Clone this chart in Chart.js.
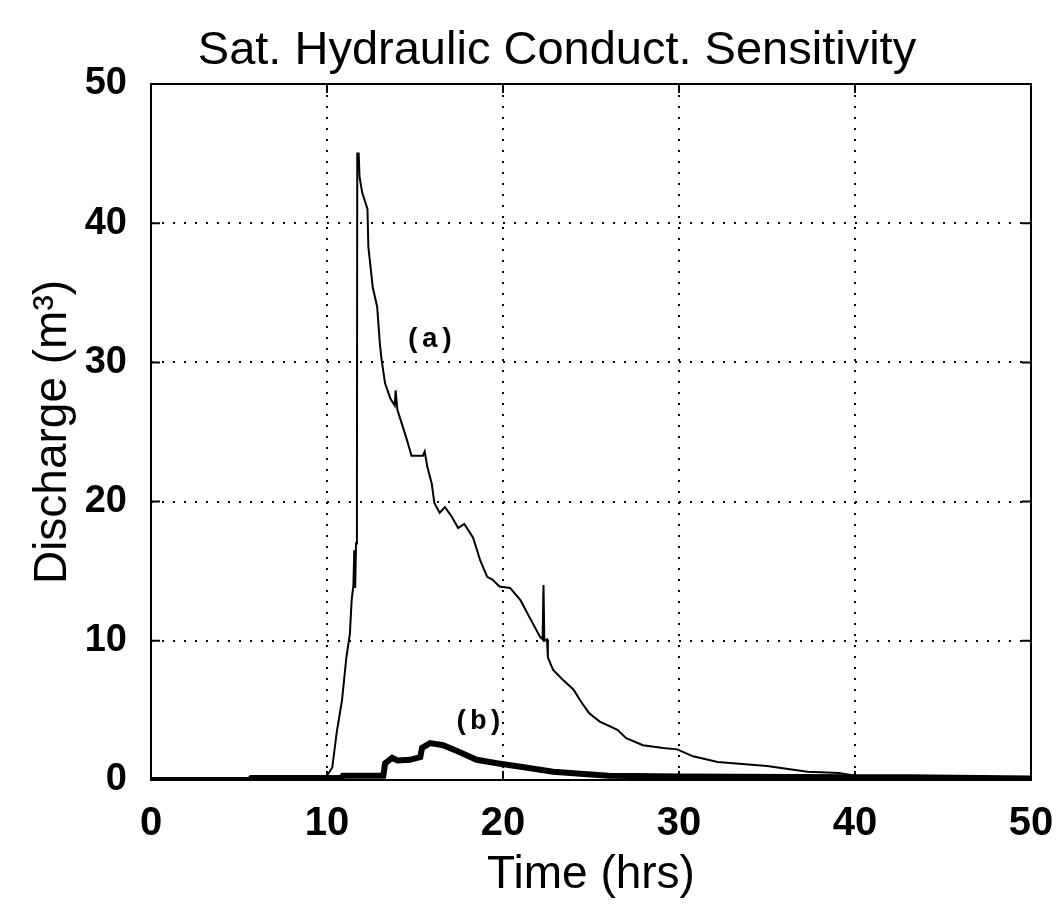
<!DOCTYPE html>
<html>
<head>
<meta charset="utf-8">
<script src="https://cdn.jsdelivr.net/npm/chart.js@4/dist/chart.umd.min.js"></script>
<style>
  html, body { margin: 0; padding: 0; background: #fff; }
  #wrap { width: 1058px; height: 909px; }
</style>
</head>
<body>
<div id="wrap"><canvas id="sens-chart" width="1058" height="909"></canvas></div>
<script>
// values
var timeA = [0, 9.9, 10.3, 10.55, 10.85, 11.1, 11.3, 11.4, 11.5, 11.55, 11.6, 11.65, 11.7, 11.72, 11.8, 11.85,
    12.0, 12.3, 12.35, 12.6, 12.85, 13.0, 13.1, 13.3, 13.6, 13.85, 13.9, 14.0, 14.25, 14.55, 14.8, 15.45,
    15.55, 15.7, 15.95, 16.1, 16.4, 16.7, 17.1, 17.45, 17.8, 18.3, 18.7, 19.1, 19.4, 19.8, 20.4, 21.0,
    21.5, 22.1, 22.25, 22.3, 22.35, 22.5, 22.55, 22.85, 23.4, 24.0, 24.5, 24.9, 25.5, 26.5, 27.0, 27.95,
    29.1, 29.9, 30.8, 32.2, 35.0, 36.1, 37.3, 39.1, 40.0, 50];
var dischargeA = [0, 0.1, 0.9, 3.4, 5.7, 8.8, 10.5, 12.9, 14.0, 16.5, 13.8, 17.0, 20.1, 45.0, 45.0, 43.3,
    42.2, 41.0, 38.3, 35.4, 34.0, 31.4, 30.2, 28.5, 27.4, 26.9, 28.0, 26.6, 25.6, 24.4, 23.3, 23.3,
    23.6, 22.5, 21.3, 19.9, 19.2, 19.6, 18.9, 18.1, 18.4, 17.4, 15.8, 14.6, 14.4, 13.9, 13.8, 12.9,
    11.7, 10.3, 10.1, 14.0, 10.0, 10.1, 8.8, 7.9, 7.2, 6.5, 5.5, 4.8, 4.2, 3.6, 3.0, 2.5,
    2.3, 2.2, 1.7, 1.3, 1.0, 0.8, 0.6, 0.5, 0.3, 0.2];

var timeB = [0, 5.6, 5.7, 10.8, 10.9, 13.2, 13.3, 13.7, 14.0, 14.7, 15.3, 15.4, 15.85, 16.6, 17.55,
    18.5, 19.65, 21.0, 22.85, 24.4, 26.0, 30, 40, 43, 50];
var dischargeB = [0, 0, 0.15, 0.15, 0.3, 0.3, 1.2, 1.6, 1.4, 1.45, 1.65, 2.3, 2.65, 2.5, 2.0,
    1.45, 1.2, 0.95, 0.6, 0.45, 0.3, 0.25, 0.2, 0.2, 0.1];

var xTicks = [0, 10, 20, 30, 40, 50];
var yTicks = [0, 10, 20, 30, 40, 50];

var curveLabels = [
    {text: '(a)', x: 15.85, y: 31.6},
    {text: '(b)', x: 18.6, y: 4.2}
];

function toPoints(xs, ys) {
    return xs.map(function(x, i) { return {x: x, y: ys[i]}; });
}

var fontSans = '"Liberation Sans", Arial, sans-serif';

// frame round the plot area, inner tick marks, curve labels, title
var framePlugin = {
    id: 'frame',
    afterDraw: function(chart) {
        var ctx = chart.ctx, a = chart.chartArea;
        var sx = chart.scales.x, sy = chart.scales.y;
        ctx.save();
        ctx.strokeStyle = '#000';
        ctx.lineWidth = 2;
        ctx.strokeRect(a.left, a.top, a.right - a.left, a.bottom - a.top);

        ctx.beginPath();
        xTicks.forEach(function(v) {
            var px = sx.getPixelForValue(v);
            ctx.moveTo(px, a.bottom); ctx.lineTo(px, a.bottom - 9);
            ctx.moveTo(px, a.top); ctx.lineTo(px, a.top + 9);
        });
        yTicks.forEach(function(v) {
            var py = sy.getPixelForValue(v);
            ctx.moveTo(a.left, py); ctx.lineTo(a.left + 9, py);
            ctx.moveTo(a.right, py); ctx.lineTo(a.right - 9, py);
        });
        ctx.stroke();

        ctx.fillStyle = '#000';
        ctx.font = 'bold 28px "Liberation Mono", "DejaVu Sans Mono", monospace';
        ctx.textAlign = 'center';
        ctx.textBaseline = 'middle';
        curveLabels.forEach(function(l) {
            ctx.fillText(l.text, sx.getPixelForValue(l.x), sy.getPixelForValue(l.y));
        });

        ctx.font = '47px ' + fontSans;
        ctx.textBaseline = 'alphabetic';
        ctx.fillText('Sat. Hydraulic Conduct. Sensitivity', 557, 64);
        ctx.restore();
    }
};

var ctx = document.getElementById('sens-chart').getContext('2d');
var chart = new Chart(ctx, {
    type: 'scatter',
    data: {
        datasets: [{
            label: '(a)',
            data: toPoints(timeA, dischargeA),
            showLine: true,
            borderColor: '#000',
            borderWidth: 2,
            pointRadius: 0,
            tension: 0
        }, {
            label: '(b)',
            data: toPoints(timeB, dischargeB),
            showLine: true,
            borderColor: '#000',
            borderWidth: 6,
            pointRadius: 0,
            tension: 0
        }]
    },
    options: {
        responsive: false,
        animation: false,
        layout: { padding: { left: 0, right: 27, top: 84, bottom: 0 } },
        plugins: {
            legend: { display: false },
            tooltip: { enabled: false },
            title: { display: false }
        },
        scales: {
            x: {
                type: 'linear',
                min: 0,
                max: 50,
                afterBuildTicks: function(scale) {
                    scale.ticks = xTicks.map(function(v) { return {value: v}; });
                },
                afterFit: function(scale) {
                    scale.height = 129;
                    scale.paddingLeft = 0;
                    scale.paddingRight = 0;
                },
                grid: {
                    color: function(c) { return (c.tick.value > 0 && c.tick.value < 50) ? '#000' : 'rgba(0,0,0,0)'; },
                    lineWidth: 2,
                    tickLength: 0,
                    drawTicks: false
                },
                border: { display: false, dash: [2, 9] },
                ticks: {
                    color: '#000',
                    padding: 20,
                    maxRotation: 0,
                    font: { family: fontSans, size: 40, weight: 'bold' }
                },
                title: {
                    display: true,
                    text: 'Time (hrs)',
                    color: '#000',
                    padding: { top: 0, bottom: 6 },
                    font: { family: fontSans, size: 46 }
                }
            },
            y: {
                min: 0,
                max: 50,
                afterBuildTicks: function(scale) {
                    scale.ticks = yTicks.map(function(v) { return {value: v}; });
                },
                afterFit: function(scale) {
                    scale.width = 151;
                    scale.paddingTop = 0;
                    scale.paddingBottom = 0;
                },
                grid: {
                    color: function(c) { return (c.tick.value > 0 && c.tick.value < 50) ? '#000' : 'rgba(0,0,0,0)'; },
                    lineWidth: 2,
                    tickLength: 0,
                    drawTicks: false
                },
                border: { display: false, dash: [2, 9] },
                ticks: {
                    color: '#000',
                    padding: 24,
                    font: { family: fontSans, size: 38, weight: 'bold' }
                },
                title: {
                    display: true,
                    text: 'Discharge (m³)',
                    color: '#000',
                    padding: { top: 26, bottom: 0 },
                    font: { family: fontSans, size: 46 }
                }
            }
        }
    },
    plugins: [framePlugin]
});
</script>
</body>
</html>
